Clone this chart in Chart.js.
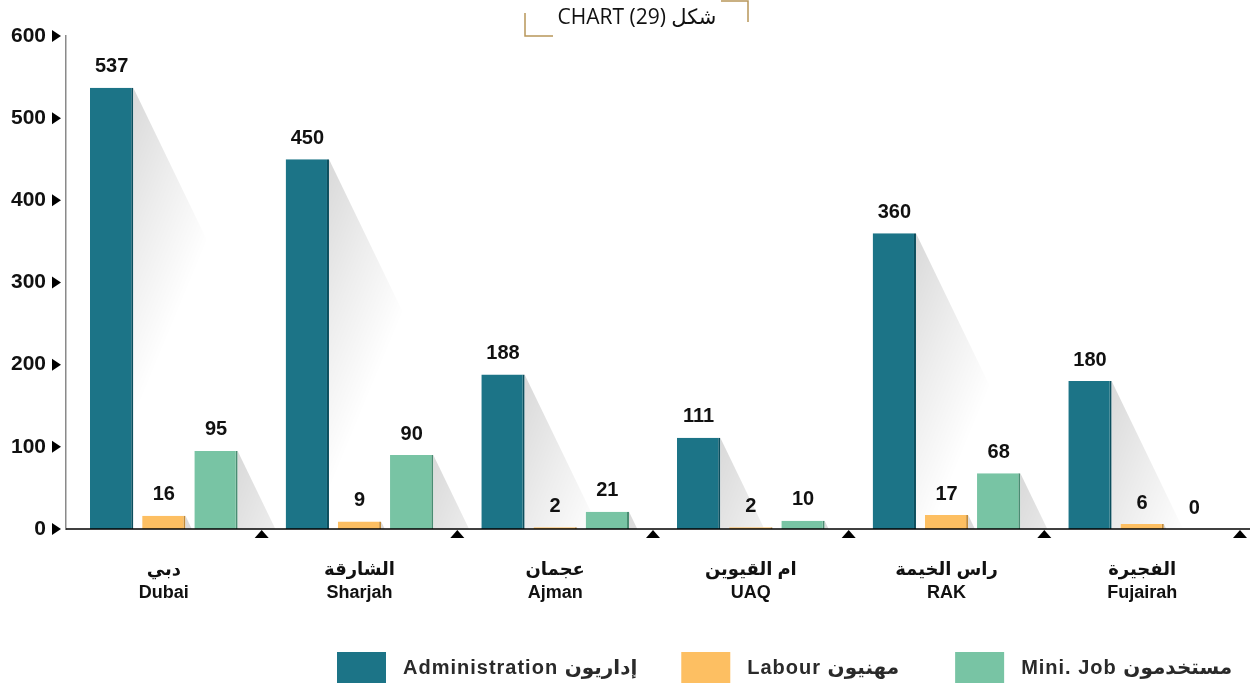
<!DOCTYPE html>
<html lang="en">
<head>
<meta charset="UTF-8">
<title>CHART (29)</title>
<script src="https://cdn.jsdelivr.net/npm/chart.js"></script>
<style>
  html, body { margin: 0; padding: 0; background: #fff; }
  #wrap { width: 1253px; height: 688px; position: relative; }
</style>
</head>
<body>
<div id="wrap"><canvas id="chart"></canvas></div>
<script>
// data
const emiratesAr = ['دبي', 'الشارقة', 'عجمان', 'ام القيوين', 'راس الخيمة', 'الفجيرة'];
const emiratesEn = ['Dubai', 'Sharjah', 'Ajman', 'UAQ', 'RAK', 'Fujairah'];
const administration = [537, 450, 188, 111, 360, 180];
const labour = [16, 9, 2, 2, 17, 6];
const miniJob = [95, 90, 21, 10, 68, 0];
const seriesNames = ['Administration إداريون', 'Labour مهنيون', 'Mini. Job مستخدمون'];
const yMax = 600;
const yStep = 100;
const chartTitle = 'CHART (29) شكل';

const FONT = "'Liberation Sans', 'DejaVu Sans', Arial, sans-serif";
const colors = ['#1c7487', '#fdbf62', '#78c4a4'];
const edgeColors = ['#0c4e5d', '#c08a3a', '#4a8c72'];
const legendGaps = [44, 56];

// gradient shadow to the right of every bar
const barShadows = {
    id: 'barShadows',
    beforeDatasetsDraw(chart) {
        const ctx = chart.ctx;
        ctx.save();
        chart.data.datasets.forEach((ds, i) => {
            chart.getDatasetMeta(i).data.forEach((bar, j) => {
                if (!ds.data[j]) return;
                const p = bar.getProps(['x', 'y', 'base', 'width'], true);
                const x0 = p.x + p.width / 2;
                const h = p.base - p.y;
                const g = ctx.createLinearGradient(x0, p.y, x0 + 118, p.y + 49);
                g.addColorStop(0, 'rgba(0,0,0,0.15)');
                g.addColorStop(0.5, 'rgba(0,0,0,0.07)');
                g.addColorStop(1, 'rgba(0,0,0,0)');
                ctx.fillStyle = g;
                ctx.beginPath();
                ctx.moveTo(x0, p.y);
                ctx.lineTo(x0 + h / 2.07, p.base);
                ctx.lineTo(x0, p.base);
                ctx.closePath();
                ctx.fill();
            });
        });
        ctx.restore();
    }
};

// numbers above the bars
const valueLabels = {
    id: 'valueLabels',
    afterDatasetsDraw(chart) {
        const ctx = chart.ctx;
        ctx.save();
        ctx.font = 'bold 20px ' + FONT;
        ctx.fillStyle = '#111';
        ctx.textAlign = 'center';
        ctx.textBaseline = 'middle';
        chart.data.datasets.forEach((ds, i) => {
            chart.getDatasetMeta(i).data.forEach((bar, j) => {
                ctx.fillText(String(ds.data[j]), bar.x, bar.y - 21);
            });
        });
        ctx.restore();
    }
};

// axis arrows, baseline, title and legend
const decorations = {
    id: 'decorations',
    afterDraw(chart) {
        const ctx = chart.ctx;
        const area = chart.chartArea;
        const xs = chart.scales.x;
        const ys = chart.scales.y;
        ctx.save();

        // baseline
        ctx.strokeStyle = '#000';
        ctx.lineWidth = 1.5;
        ctx.beginPath();
        ctx.moveTo(area.left, area.bottom);
        ctx.lineTo(chart.width - 3, area.bottom);
        ctx.stroke();

        // y tick arrows
        ctx.fillStyle = '#000';
        ys.ticks.forEach(t => {
            const y = ys.getPixelForValue(t.value);
            ctx.beginPath();
            ctx.moveTo(area.left - 14, y - 6);
            ctx.lineTo(area.left - 5, y);
            ctx.lineTo(area.left - 14, y + 6);
            ctx.closePath();
            ctx.fill();
        });

        // x category arrows at the right end of each group
        const catW = (xs.right - xs.left) / emiratesEn.length;
        emiratesEn.forEach((_, i) => {
            const x = xs.getPixelForValue(i) + catW / 2;
            ctx.beginPath();
            ctx.moveTo(x, area.bottom + 1);
            ctx.lineTo(x + 7, area.bottom + 9);
            ctx.lineTo(x - 7, area.bottom + 9);
            ctx.closePath();
            ctx.fill();
        });

        // title with gold corner brackets
        ctx.font = "21px 'Open Sans', 'DejaVu Sans', sans-serif";
        ctx.fillStyle = '#111';
        ctx.textAlign = 'center';
        ctx.textBaseline = 'middle';
        ctx.fillText(chartTitle, 637, 18);
        ctx.strokeStyle = '#b8975a';
        ctx.lineWidth = 1.5;
        ctx.beginPath();
        ctx.moveTo(525, 13); ctx.lineTo(525, 36); ctx.lineTo(553, 36);
        ctx.moveTo(721, 1); ctx.lineTo(748, 1); ctx.lineTo(748, 22);
        ctx.stroke();

        // legend
        ctx.font = 'bold 20px ' + FONT;
        ctx.letterSpacing = '1px';
        ctx.textAlign = 'left';
        let lx = 337;
        chart.data.datasets.forEach((ds, i) => {
            ctx.fillStyle = ds.backgroundColor;
            ctx.fillRect(lx, 652, 49, 31);
            ctx.fillStyle = '#2a2a2a';
            ctx.fillText(ds.label, lx + 66, 668);
            lx += 66 + ctx.measureText(ds.label).width + (legendGaps[i] || 0);
        });
        ctx.restore();
    }
};

new Chart(document.getElementById('chart'), {
    type: 'bar',
    data: {
        labels: emiratesEn.map((en, i) => [emiratesAr[i], en]),
        datasets: [administration, labour, miniJob].map((d, i) => ({
            label: seriesNames[i],
            data: d,
            backgroundColor: colors[i],
            borderColor: edgeColors[i],
            borderWidth: { top: 0, left: 0, bottom: 0, right: 2 },
            borderSkipped: false,
            categoryPercentage: 0.8,
            barPercentage: 0.83
        }))
    },
    options: {
        responsive: true,
        maintainAspectRatio: false,
        animation: false,
        layout: { padding: { top: 36, right: 13, bottom: 79, left: 0 } },
        plugins: {
            legend: { display: false },
            tooltip: { enabled: false }
        },
        scales: {
            x: {
                grid: { display: false, drawTicks: false },
                border: { display: false },
                ticks: {
                    color: '#111',
                    padding: 30,
                    font: { family: FONT, size: 18, weight: 'bold', lineHeight: 1.25 },
                    maxRotation: 0
                },
                afterFit(scale) { scale.height = 80; }
            },
            y: {
                min: 0,
                max: yMax,
                grid: { display: false, drawTicks: false },
                border: { display: true, color: '#8a8a8a', width: 1.5 },
                ticks: {
                    stepSize: yStep,
                    color: '#111',
                    padding: 20,
                    font: { family: FONT, size: 21, weight: 'bold' }
                },
                afterFit(scale) { scale.width = 66; }
            }
        }
    },
    plugins: [barShadows, valueLabels, decorations]
});
</script>
</body>
</html>
